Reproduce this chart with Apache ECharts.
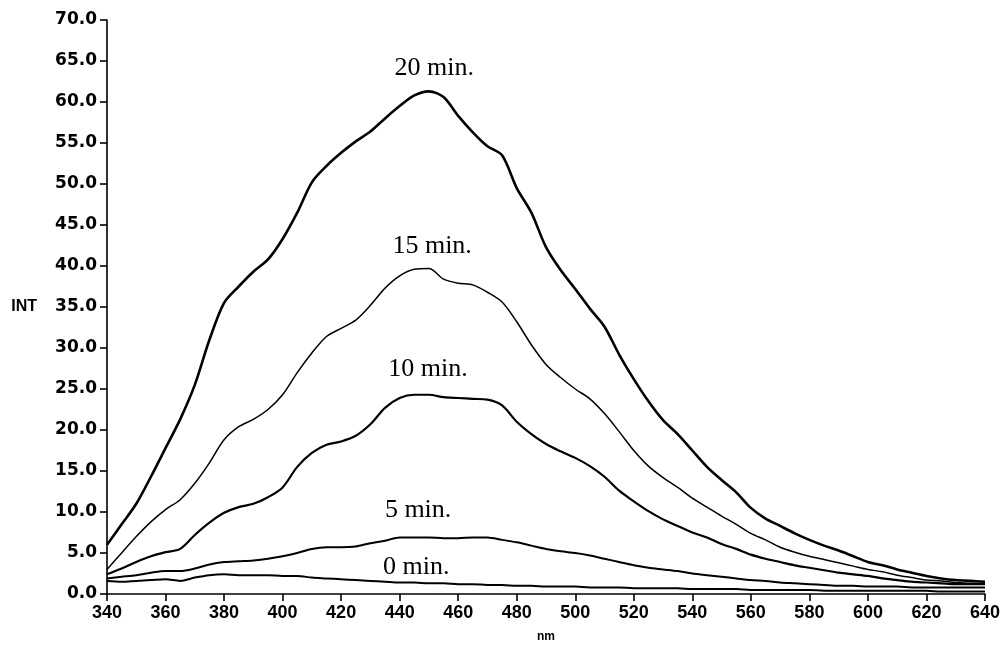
<!DOCTYPE html>
<html>
<head>
<meta charset="utf-8">
<script src="https://cdn.jsdelivr.net/npm/echarts@6/dist/echarts.min.js"></script>
<style>
html,body{margin:0;padding:0;background:#fff;}
#chart{width:1003px;height:648px;}
</style>
</head>
<body>
<div id="chart"></div>
<script>
const wavelengths = [340,345,350,355,360,365,370,375,380,385,390,395,400,405,410,415,420,425,430,435,440,445,450,455,460,465,470,475,480,485,490,495,500,505,510,515,520,525,530,535,540,545,550,555,560,565,570,575,580,585,590,595,600,605,610,615,620,625,630,635,640];

const int20 = [6.0,8.5,11.0,14.3,17.8,21.3,25.5,31.0,35.5,37.5,39.3,40.8,43.3,46.5,50.2,52.2,53.8,55.2,56.4,58.0,59.5,60.8,61.3,60.6,58.3,56.3,54.6,53.5,49.5,46.5,42.3,39.5,37.2,34.8,32.6,29.2,26.2,23.5,21.2,19.5,17.5,15.5,13.9,12.4,10.5,9.2,8.3,7.4,6.6,5.9,5.3,4.6,3.9,3.5,3.0,2.6,2.2,1.9,1.7,1.6,1.5];
const int15 = [3.0,5.0,7.0,8.8,10.3,11.5,13.5,16.0,18.8,20.4,21.3,22.5,24.3,27.0,29.4,31.4,32.4,33.4,35.2,37.3,38.8,39.6,39.7,38.4,37.9,37.7,36.8,35.6,33.2,30.4,28.0,26.4,25.0,23.8,22.0,19.8,17.5,15.6,14.2,13.0,11.7,10.6,9.5,8.5,7.4,6.6,5.7,5.1,4.6,4.2,3.8,3.4,3.0,2.7,2.3,2.0,1.7,1.6,1.4,1.3,1.3];
const int10 = [2.4,3.1,3.9,4.6,5.1,5.5,7.2,8.7,9.9,10.6,11.0,11.8,13.0,15.5,17.2,18.2,18.6,19.3,20.7,22.7,23.9,24.3,24.3,24.0,23.9,23.8,23.7,23.0,21.0,19.5,18.3,17.4,16.6,15.6,14.3,12.6,11.3,10.1,9.1,8.3,7.5,6.9,6.1,5.5,4.8,4.3,3.9,3.5,3.2,2.9,2.6,2.4,2.2,1.9,1.7,1.5,1.4,1.3,1.2,1.2,1.2];
const int5 = [1.9,2.1,2.3,2.6,2.8,2.8,3.1,3.6,3.9,4.0,4.1,4.3,4.6,5.0,5.5,5.7,5.7,5.8,6.2,6.5,6.9,6.9,6.9,6.8,6.8,6.9,6.9,6.6,6.3,5.9,5.5,5.2,5.0,4.7,4.3,3.9,3.5,3.2,3.0,2.8,2.5,2.3,2.1,1.9,1.7,1.6,1.4,1.3,1.2,1.1,1.0,1.0,0.9,0.9,0.9,0.8,0.8,0.8,0.8,0.8,0.8];
const int0 = [1.6,1.5,1.6,1.7,1.8,1.6,2.0,2.3,2.4,2.3,2.3,2.3,2.2,2.2,2.0,1.9,1.8,1.7,1.6,1.5,1.4,1.4,1.3,1.3,1.2,1.2,1.1,1.1,1.0,1.0,0.9,0.9,0.9,0.8,0.8,0.8,0.7,0.7,0.7,0.7,0.6,0.6,0.6,0.6,0.5,0.5,0.5,0.5,0.5,0.4,0.4,0.4,0.4,0.4,0.4,0.4,0.4,0.3,0.3,0.3,0.3];

const seriesNames = ['20 min.','15 min.','10 min.','5 min.','0 min.'];
const seriesValues = [int20,int15,int10,int5,int0];
const labelX = [451.8,451.1,449.7,446.3,445.7];
const labelY = [64.1,42.4,27.4,10.2,3.3];
const lineWidths = [2.6,1.5,2.2,2.0,2.0];

const xTicks = [340,360,380,400,420,440,460,480,500,520,540,560,580,600,620,640];

const chart = echarts.init(document.getElementById('chart'));

const series = seriesNames.map((name,i)=>({
  name: name,
  type: 'line',
  data: wavelengths.map((w,j)=>[w, seriesValues[i][j]]),
  showSymbol: false,
  smooth: 0.3,
  lineStyle: {color:'#000', width: lineWidths[i]},
  silent: true,
  animation: false
}));

series.push({
  name: 'labels',
  type: 'scatter',
  silent: true,
  animation: false,
  symbolSize: 0,
  itemStyle: {color: '#000', opacity: 1},
  data: seriesNames.map((name,i)=>({value:[labelX[i], labelY[i]], name: name})),
  label: {
    show: true,
    position: 'inside',
    formatter: p => p.name,
    color: '#000',
    opacity: 1,
    fontFamily: 'Liberation Serif, DejaVu Serif, serif',
    fontSize: 26,
    fontWeight: 'normal'
  }
});

chart.setOption({
  backgroundColor: '#fff',
  animation: false,
  grid: {left:107, right:16, top:20, bottom:54, containLabel:false},
  xAxis: {
    type: 'value',
    min: 340, max: 640, interval: 20,
    name: 'nm',
    nameLocation: 'middle',
    nameGap: 37,
    nameTextStyle: {color:'#000', fontFamily:'Liberation Sans, sans-serif', fontWeight:'bold', fontSize:12},
    axisLine: {show:true, lineStyle:{color:'#000', width:1.6}},
    axisTick: {show:true, inside:false, length:7, lineStyle:{color:'#000', width:1.6}},
    axisLabel: {
      color:'#000', margin:10, fontSize:18, fontWeight:'bold',
      fontFamily:'Liberation Sans, sans-serif',
      customValues: xTicks
    },
    splitLine: {show:false}
  },
  yAxis: {
    type: 'value',
    min: 0, max: 70, interval: 5,
    name: 'INT',
    nameLocation: 'middle',
    nameRotate: 0,
    nameGap: 70,
    nameTextStyle: {color:'#000', fontFamily:'Liberation Sans, Arial, sans-serif', fontWeight:'bold', fontSize:16, align:'right'},
    axisLine: {show:true, lineStyle:{color:'#000', width:1.6}},
    axisTick: {show:true, inside:false, length:7, lineStyle:{color:'#000', width:1.6}},
    axisLabel: {
      color:'#000', margin:10, fontSize:17, fontWeight:'bold',
      fontFamily:'DejaVu Sans, Liberation Sans, sans-serif',
      formatter: v => v.toFixed(1)
    },
    splitLine: {show:false}
  },
  series: series
});
</script>
</body>
</html>
